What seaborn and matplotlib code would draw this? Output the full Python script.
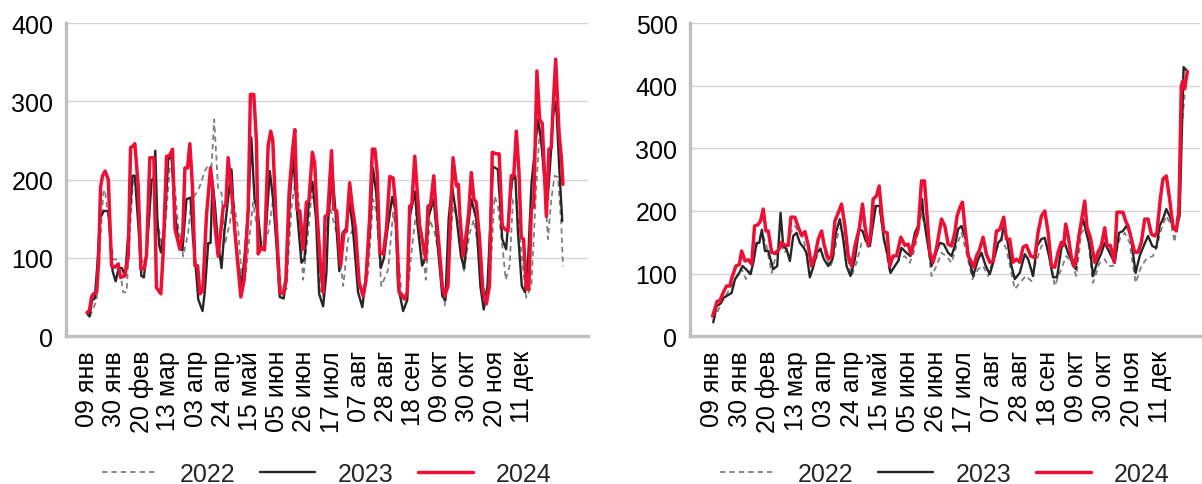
import pandas as pd
import seaborn as sns
import matplotlib.pyplot as plt

# tick labels, one every 21 days starting at 09 Jan
tick_labels = ["09 янв", "30 янв", "20 фев", "13 мар", "03 апр", "24 апр", "15 май",
               "05 июн", "26 июн", "17 июл", "07 авг", "28 авг", "18 сен", "09 окт",
               "30 окт", "20 ноя", "11 дек"]
years = ["2022", "2023", "2024"]

## left panel: day index (0 = 09 янв) and values
left_2024_day = [0, 2, 3.5, 5, 7.5, 9, 10.5, 12, 14, 16.5, 19, 21.6, 24, 26, 29.3, 31.9, 33.7, 35.5, 37,
                 39.6, 41.7, 44.2, 46, 48.6, 51.7, 53.7, 57.1, 59, 61.5, 63.5, 66.1, 68, 71.8, 74, 75.7,
                 77.7, 79.5, 81.5, 83.4, 85.5, 87.3, 89.5, 92.3, 95.5, 97, 98.8, 101.4, 105.3, 107.3,
                 109.1, 111.7, 114.3, 118.1, 118.9, 121.5, 124.6, 126.3, 128.9, 131, 132.3, 134.5, 137.2,
                 140, 142, 143.6, 146, 149, 151.6, 153.7, 156.2, 158.8, 160.6, 162.4, 164.5, 167, 169.6,
                 171.5, 174.2, 176, 177.9, 180.5, 182.5, 184, 186, 189, 190.7, 193, 196, 198.5, 200.5,
                 203, 205, 207.5, 210.3, 213.4, 215.5, 218.5, 220.5, 222.5, 224.2, 226.3, 229, 231.4,
                 234, 236.6, 238.6, 241.2, 245.6, 247.5, 249.4, 251, 253.3, 255.3, 257.1, 261.8, 263.5,
                 265.5, 268, 270, 272, 274.6, 276.4, 279, 281.1, 282.9, 285.5, 287, 288, 290.6, 293.2,
                 295, 297, 299, 300.8, 303.4, 306, 308.6, 311, 313.2, 316.3, 318.5, 320.9, 322.8, 325.3,
                 327.9, 329.8, 331.8, 333.8, 335.6, 337.4, 339.5, 341.4, 343.4, 345.2, 347.7, 349.8,
                 351.8, 355, 357, 358.8, 360, 362.2, 364.8, 366.6, 367.8]
left_2024_val = [30, 33, 50, 54, 56, 95, 190, 205, 211, 200, 90, 88, 92, 75, 77, 103, 241, 243, 246,
                 192, 86, 86, 103, 228, 228, 62, 54, 110, 230, 230, 239, 137, 111, 130, 215,
                 215, 246, 192, 90, 90, 54, 58, 153, 215, 192, 143, 102, 165, 168,
                 228, 187, 134, 64, 50, 72, 162, 309, 309, 248, 105, 113, 110,
                 243, 262, 250, 153, 56, 54, 72, 183, 237, 264, 162, 160, 111, 171,
                 173, 235, 221, 153, 90, 56, 153, 155, 237, 162, 160, 90, 132, 134,
                 196, 166, 137, 69, 51, 70, 153, 239, 239, 210, 107, 105, 137,
                 204, 202, 166, 56, 47, 56, 166, 168, 230, 183, 141, 98, 166,
                 168, 205, 153, 116, 64, 51, 64, 158, 228, 192, 194, 158, 102, 132,
                 158, 209, 175, 171, 124, 56, 41, 64, 235, 233, 233, 141, 137, 134,
                 205, 205, 262, 211, 126, 124, 60, 60, 162, 166, 339, 277,
                 272, 153, 239, 241, 286, 354, 260, 228, 194]

left_2023_day = [0.5, 2, 4, 6, 8, 10, 13, 16.5, 19.8, 22.2, 24.5, 27, 29.5, 31, 33.2, 35.2, 37, 40, 42, 44,
                 46.5, 50, 51.5, 52.8, 54.3, 55.9, 57.2, 60, 62.8, 65.3, 68, 71.3, 73.8, 76.9, 80, 82, 84,
                 86, 89.3, 91, 93.7, 95.5, 97, 98.8, 101, 104, 106, 109, 111.7, 114.3, 116.9, 119.5, 122,
                 124.6, 127, 129.5, 132, 134.9, 137.5, 141.3, 143.8, 146.7, 149, 152, 154, 156.8, 159.3,
                 162.4, 165.7, 168, 171.7, 174.2, 177, 179.4, 182.5, 185, 186.5, 189.7, 192, 195, 197.5,
                 200, 203, 205.5, 209.5, 212.8, 216, 218.5, 221, 223.5, 227, 229.5, 232, 235.9, 238.4,
                 240.4, 244.3, 247.5, 249.5, 253.3, 255.5, 259, 261.5, 264, 268, 271, 274.6, 277, 279.5,
                 282, 285, 289, 291.5, 294, 297, 300.8, 304, 306.6, 309.5, 313.7, 317.5, 320.9, 323.9,
                 326.9, 328.7, 331, 333, 336, 338.5, 341, 343.5, 348.5, 351, 353.5, 356, 358.5, 360,
                 362.5, 365, 367.3]
left_2023_val = [28, 25, 46, 48, 90, 150, 160, 160, 83, 70, 87, 87, 77, 110, 158, 205, 205, 134, 77, 75,
                 115, 200, 200, 237, 153, 115, 107, 142, 226, 230, 158, 112, 110, 175, 177, 123, 90,
                 47, 32, 56, 119, 119, 197, 170, 123, 87, 130, 175, 213, 134, 90, 64, 107,
                 162, 254, 175, 158, 111, 115, 211, 175, 111, 50, 48, 72, 175, 230,
                 158, 94, 98, 175, 197, 150, 54, 38, 80, 150, 209, 160, 83, 132,
                 137, 171, 137, 56, 37, 83, 132, 215, 183, 87, 100, 134, 178, 160,
                 64, 32, 46, 153, 185, 141, 90, 100, 153, 175, 116, 51, 46, 150,
                 192, 160, 102, 87, 132, 175, 150, 64, 34, 64, 217, 213, 124, 111,
                 175, 200, 205, 134, 64, 56, 102, 195, 277, 250, 200, 175, 234, 281,
                 300, 213, 147]

left_2022_day = [2.3, 7.5, 12.6, 13.9, 20.3, 24.2, 28, 30.6, 33.2, 35.8, 39.6, 42.2, 44.8, 48.6, 52.5,
                 55.1, 58.9, 64.1, 66.7, 70.5, 74.4, 78.2, 80.8, 84.7, 87.3, 91.1, 93.7, 96.3, 98.3,
                 101.4, 104, 106.6, 110.4, 113, 116.8, 119.4, 122.8, 125.9, 128.4, 133.6, 137.5, 140,
                 143.9, 146.5, 150.3, 154.2, 158.1, 161.9, 164.5, 167, 170.9, 173.5, 176.8, 180, 182.5,
                 183.8, 187.6, 192.8, 198, 201.8, 205.7, 210.8, 213.4, 217.3, 221.1, 223.7, 227.5,
                 232.7, 236.6, 239.2, 243, 247.4, 250.7, 254.6, 258.4, 261.8, 264.9, 268.7, 272.6,
                 276.4, 280.3, 282.9, 288, 291.1, 295.8, 299, 303.5, 307.3, 311.2, 315, 317.6, 321.5,
                 323.6, 326.6, 329.2, 331.8, 335.7, 339.5, 343.4, 346.7, 349.8, 353, 356.2, 358.8,
                 361.4, 364, 366.6, 367.8]
left_2022_val = [25, 46, 183, 187, 98, 98, 56, 56, 132, 205, 200, 98, 90, 158, 158,
                 141, 107, 217, 213, 141, 102, 132, 175, 183, 192, 211, 219, 217, 277,
                 187, 183, 117, 145, 175, 137, 81, 81, 132, 171, 113, 124, 132,
                 175, 132, 56, 60, 166, 209, 153, 72, 132, 179, 166, 60, 51,
                 124, 166, 132, 64, 124, 137, 69, 51, 81, 175, 158, 64,
                 85, 158, 132, 56, 47, 107, 162, 132, 72, 149, 132, 98,
                 39, 107, 166, 141, 81, 132, 149, 98, 56, 64, 179, 166, 107,
                 72, 90, 175, 175, 107, 49, 64, 175, 265, 213, 124, 175,
                 205, 203, 141, 89]

## right panel
right_2024_day = [0.5, 4, 6, 8.5, 11, 13.5, 14.5, 18, 20.5, 22.3, 24.8, 27.3, 29.8, 32, 34.5, 36.5, 38.5,
                  40.5, 42.3, 44.8, 47.3, 50.5, 52.3, 54.8, 57.3, 59.3, 62.3, 64.8, 67.3, 69.8, 72.3,
                  74.8, 77.3, 79.8, 82.3, 84.3, 87.3, 89.8, 92.3, 94.8, 97.3, 99.8, 102.3, 104.8, 107.3,
                  110.5, 113, 114.8, 117.3, 119, 121, 123.5, 125.5, 127.3, 129, 131.5, 133.5, 136, 138.5,
                  141.8, 144.8, 147.3, 149.3, 152.3, 154.8, 157.3, 159.5, 161.5, 163.5, 166, 168.5,
                  172.3, 174.8, 177.3, 179.8, 182.3, 184, 186, 188, 189.8, 192.3, 194.8, 196.6, 198.5,
                  200.5, 203.5, 206, 208.5, 211, 213.5, 216, 219, 221, 223.5, 226, 228.5, 231, 233.5,
                  236, 239.3, 242.3, 244.8, 247.3, 249.8, 252.3, 254.8, 257.3, 259.8, 262.3, 264, 265.5,
                  267.3, 269.8, 272.3, 274.8, 277.3, 279.8, 281.5, 284, 287.3, 289.8, 292.3, 294.8,
                  296.5, 299, 302, 304, 306, 308.5, 310.5, 312.3, 314.8, 317.3, 319.8, 322.3, 324.8,
                  327.3, 329.8, 332.3, 334, 336.5, 338.5, 341, 343.5, 346, 348.5, 350.5, 352.3, 353.5,
                  354.8, 356.8]
right_2024_val = [32, 56, 56, 70, 80, 80, 90, 112, 114, 136, 120, 122, 115, 176, 178, 184, 203,
                  168, 168, 134, 132, 139, 150, 145, 145, 190, 190, 174, 161, 167, 145,
                  112, 128, 155, 168, 145, 123, 128, 184, 197, 211, 176, 128, 112, 144,
                  171, 211, 176, 144, 161, 219, 224, 240, 199, 167, 165, 112, 128, 128,
                  158, 145, 147, 131, 155, 171, 248, 248, 192, 134, 118, 140,
                  187, 176, 147, 144, 165, 192, 205, 214, 176, 128, 118, 110, 128,
                  136, 158, 131, 118, 120, 168, 170, 190, 155, 155, 118, 123, 118, 142,
                  145, 128, 125, 166, 192, 200, 166, 112, 110, 134, 150, 145, 179,
                  161, 125, 112, 150, 184, 216, 173, 158, 118, 134, 145, 173,
                  145, 145, 118, 198, 198, 198, 184, 176, 155, 134, 134, 150, 187,
                  187, 163, 160, 166, 219, 251, 256, 219, 176, 168, 200, 400, 408,
                  395, 423]

right_2023_day = [1, 3.5, 6, 8.5, 11, 14.8, 17.3, 20.5, 23, 25.5, 29, 31, 33.5, 35.5, 37.5, 39.8, 42.3, 46,
                  49, 51.5, 53.5, 56, 58.5, 61, 63.5, 66, 69, 71, 73.5, 76, 78.5, 81.5, 84, 87.3, 90.5, 93,
                  96, 98.5, 101, 104, 107.3, 110.5, 113, 115.5, 118.5, 123, 126, 129, 131.5, 134, 137.3,
                  139.8, 142.3, 146, 149, 152.3, 154.8, 157.8, 158.5, 161, 164.8, 167.3, 171, 174, 177.3,
                  179.8, 182.3, 184.8, 187.3, 190.5, 193, 196, 199.8, 202.3, 205.5, 208.5, 211, 214.8,
                  217.3, 219, 221.5, 224.8, 227.3, 231, 234.8, 237.3, 241, 244, 247.3, 249.8, 253, 256,
                  259, 262.3, 264.8, 267.3, 270.5, 273, 275.5, 278.5, 281, 283.5, 286, 289, 292.3, 294.8,
                  298.5, 302.3, 305.5, 308.5, 311, 314, 318, 321, 324, 327.3, 330.5, 333.5, 336, 338.5,
                  341, 343.5, 346.5, 349, 351, 354, 356]
right_2023_val = [22, 48, 51, 61, 64, 69, 91, 101, 112, 107, 99, 117, 149, 149, 170, 136, 136, 107,
                  112, 197, 144, 139, 120, 160, 165, 149, 141, 133, 94, 110, 133, 139, 123, 112, 123, 165,
                  187, 155, 112, 96, 123, 171, 168, 152, 144, 208, 208, 155, 133, 101, 112,
                  120, 141, 133, 128, 165, 176, 219, 197, 160, 112, 128, 149, 147, 133,
                  128, 144, 171, 176, 155, 123, 96, 123, 133, 112, 99, 117, 149,
                  155, 176, 155, 112, 91, 101, 131, 123, 96, 144, 155, 157, 128, 94,
                  94, 141, 149, 133, 117, 107, 165, 187, 165, 144, 96, 117, 133, 149,
                  133, 117, 165, 168, 176, 165, 101, 128, 144, 160, 144, 141, 176, 187,
                  203, 192, 171, 176, 192, 430, 425]

right_2022_day = [1, 8.5, 16, 22.3, 25.5, 29.8, 33.5, 37.3, 40.5, 44.8, 48.5, 52.3, 54.8, 59, 62.3, 65.5,
                  69, 73, 77.3, 81, 84.8, 88.5, 91, 94.8, 97.3, 101, 104.8, 108.5, 112.3, 115.5, 118.5,
                  122.3, 125.5, 129, 133.5, 137.3, 141, 144.8, 148.5, 152.3, 157.3, 161, 164.8, 168.5,
                  172.3, 176, 179.8, 183.5, 187.3, 191, 195.5, 199.8, 203.5, 207.3, 212.3, 217.3, 221,
                  227.3, 231, 235.5, 239.8, 242.3, 247.3, 251, 254.8, 257.3, 261, 266, 269.8, 273.5,
                  277.3, 281, 286, 291, 294.8, 297.3, 301, 306, 309.8, 313.5, 318, 322.3, 326, 331, 334,
                  337.3, 341, 344.8, 347.3, 349.8, 352.3, 354.8]
right_2022_val = [25, 58, 85, 107, 91, 107, 144, 165, 149, 101, 133, 144, 133, 165, 176, 165,
                  155, 101, 117, 141, 133, 109, 123, 165, 176, 133, 96, 117, 149, 155, 144,
                  208, 203, 160, 101, 112, 123, 128, 117, 139, 197, 165, 96, 112,
                  133, 128, 117, 144, 165, 133, 91, 107, 112, 96, 133, 155, 139,
                  75, 85, 96, 88, 112, 144, 149, 112, 80, 101, 128, 117, 96,
                  165, 176, 85, 117, 123, 112, 112, 155, 165, 149, 85, 112, 123, 128, 144,
                  171, 192, 176, 150, 208, 325, 386]

left_data = {"2022": (left_2022_day, left_2022_val),
             "2023": (left_2023_day, left_2023_val),
             "2024": (left_2024_day, left_2024_val)}
right_data = {"2022": (right_2022_day, right_2022_val),
              "2023": (right_2023_day, right_2023_val),
              "2024": (right_2024_day, right_2024_val)}

styles = {"2022": dict(color="#7f7f7f", lw=1.3, dashes=(3, 2.2), zorder=2),
          "2023": dict(color="#262626", lw=1.7, dashes=None, zorder=3),
          "2024": dict(color="#ee0f35", lw=2.5, dashes=None, zorder=4)}

sns.set_theme(style="white")
plt.rcParams["font.family"] = ["Liberation Sans", "DejaVu Sans"]

fig = plt.figure(figsize=(12.02, 4.85), dpi=100)
ax_l = fig.add_axes([0.0549, 0.305, 0.434, 0.645])
ax_r = fig.add_axes([0.574, 0.305, 0.424, 0.645])


def draw_panel(ax, data, ymax, xlim):
    for yr in years:
        d, v = data[yr]
        df = pd.DataFrame({"day": d, "value": v})
        st = styles[yr]
        sns.lineplot(data=df, x="day", y="value", ax=ax, color=st["color"],
                     linewidth=st["lw"], label=yr, sort=True, estimator=None)
        ln = ax.lines[-1]
        if st["dashes"] is not None:
            ln.set_dashes(st["dashes"])
        ln.set_zorder(st["zorder"])
    ax.set_xlim(*xlim)
    ax.set_ylim(0, ymax)
    ax.set_yticks(range(0, ymax + 1, 100))
    ax.set_xticks(range(0, 21 * len(tick_labels), 21))
    ax.set_xticklabels(tick_labels, rotation=90)
    ax.set_xlabel("")
    ax.set_ylabel("")
    ax.tick_params(axis="both", length=0, labelsize=18, colors="black")
    ax.tick_params(axis="x", pad=10)
    ax.tick_params(axis="y", pad=9)
    ax.yaxis.grid(True, color="#d4d4d4", linewidth=1.0)
    ax.xaxis.grid(False)
    ax.set_axisbelow(True)
    for s in ["top", "right"]:
        ax.spines[s].set_visible(False)
    for s in ["left", "bottom"]:
        ax.spines[s].set_color("#bfbfbf")
        ax.spines[s].set_linewidth(2.4)
    ax.legend(loc="center", bbox_to_anchor=(0.5, -0.44), ncol=3, frameon=False,
              fontsize=18, handlelength=2.2, handletextpad=0.9, columnspacing=1.0)


draw_panel(ax_l, left_data, 400, (-16.2, 386.9))
draw_panel(ax_r, right_data, 500, (-16.5, 366))

fig.savefig("out.png", dpi=100)
